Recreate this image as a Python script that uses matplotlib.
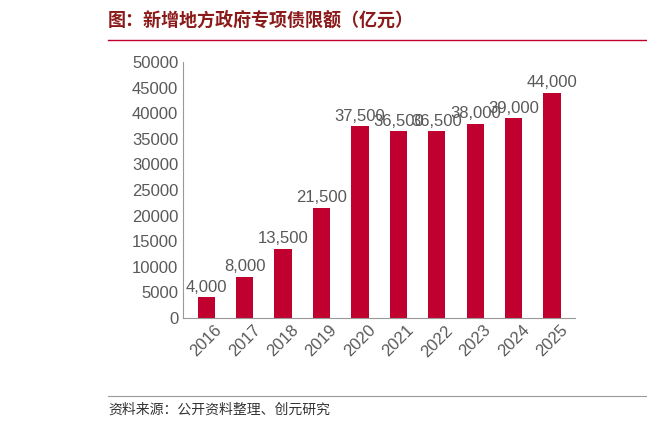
import matplotlib
matplotlib.use("Agg")
import matplotlib.pyplot as plt

plt.rcParams['font.family'] = ['Liberation Sans', 'Noto Sans CJK SC', 'DejaVu Sans']

YEARS = ["2016", "2017", "2018", "2019", "2020", "2021", "2022", "2023", "2024", "2025"]
VALUES = [4000, 8000, 13500, 21500, 37500, 36500, 36500, 38000, 39000, 44000]
TITLE = "图：新增地方政府专项债限额（亿元）"
SOURCE = "资料来源：公开资料整理、创元研究"

fig = plt.figure(figsize=(6.47, 4.26), dpi=100)
ax = fig.add_axes([0.283, 0.254, 0.606, 0.6])
x = range(len(YEARS))
ax.bar(x, VALUES, width=0.45, color="#C0002F")
for xi, v in zip(x, VALUES):
    ax.text(xi, v + 500, f"{v:,}", ha="center", va="bottom", fontsize=12, color="#595959")
ax.set_xticks(list(x))
ax.set_xticklabels(YEARS, rotation=45, fontsize=12, color="#595959")
ax.set_ylim(0, 50000)
ax.set_yticks(range(0, 50001, 5000))
ax.tick_params(axis="y", labelsize=12, colors="#595959", length=0)
ax.tick_params(axis="x", length=0)
ax.set_xlim(-0.6, len(YEARS) - 0.4)
for s in ("top", "right"):
    ax.spines[s].set_visible(False)
for s in ("left", "bottom"):
    ax.spines[s].set_color("#999999")

fig.text(108 / 647, 1 - 20 / 426, TITLE, fontsize=13, color="#8B1A1A", fontweight="bold", va="center",
         family=['Noto Sans CJK SC', 'DejaVu Sans'])
fig.add_artist(plt.Line2D([108 / 647, 1], [1 - 40 / 426] * 2, color="#C0002F", lw=1))
fig.add_artist(plt.Line2D([108 / 647, 1], [1 - 396 / 426] * 2, color="#999999", lw=0.8))
fig.text(108 / 647, 1 - 410 / 426, SOURCE, fontsize=10, color="#333333", va="center",
         family=['Noto Sans CJK SC', 'DejaVu Sans'])

fig.savefig("out.png")
